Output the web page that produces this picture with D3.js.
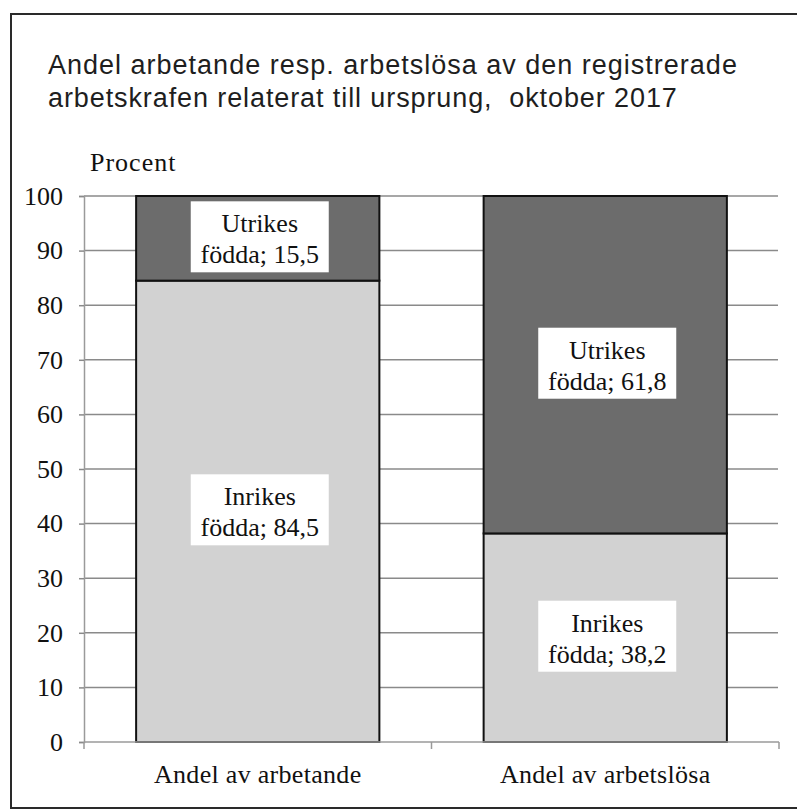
<!DOCTYPE html>
<html>
<head>
<meta charset="utf-8">
<script src="https://cdn.jsdelivr.net/npm/d3@7"></script>
<style>
  body { margin: 0; background: #fff; }
  svg { display: block; }
</style>
</head>
<body>
<div id="graph"></div>
<script>
const categories = ['Andel av arbetande', 'Andel av arbetslösa'];
const seriesNames = ['Inrikes', 'Utrikes'];
const inrikes = [84.5, 38.2];
const utrikes = [15.5, 61.8];
const yTicks = [0, 10, 20, 30, 40, 50, 60, 70, 80, 90, 100];
const colors = ['#d2d2d2', '#6c6c6c'];

const width = 797, height = 810;
const plot = {left: 84, right: 779, top: 196, bottom: 742};
const serif = '"Liberation Serif", "Times New Roman", serif';

const svg = d3.select('#graph')
  .append('svg')
    .attr('width', width)
    .attr('height', height);

// outer frame
svg.append('rect')
  .attr('x', 11).attr('y', 14)
  .attr('width', 800).attr('height', 794)
  .attr('fill', 'none')
  .attr('stroke', '#2a2a2a')
  .attr('stroke-width', 2);

// title
const title = svg.append('text')
  .attr('font-family', '"Liberation Sans", Arial, sans-serif')
  .attr('font-size', 27)
  .attr('letter-spacing', 1)
  .style('white-space', 'pre')
  .attr('fill', '#1e1e1e');
title.append('tspan').attr('x', 48).attr('y', 74)
  .text('Andel arbetande resp. arbetslösa av den registrerade');
title.append('tspan').attr('x', 48).attr('y', 107)
  .attr('letter-spacing', 0.9)
  .text('arbetskrafen relaterat till ursprung,  oktober 2017');

const y = d3.scaleLinear()
  .domain([0, 100])
  .range([plot.bottom, plot.top]);

const x = d3.scaleBand()
  .domain(categories)
  .range([plot.left, plot.right])
  .paddingInner(0.3)
  .paddingOuter(0.15);

// gridlines
svg.append('g')
  .selectAll('line')
  .data(yTicks.filter(d => d > 0))
  .enter()
    .append('line')
      .attr('x1', plot.left)
      .attr('x2', plot.right - 1)
      .attr('y1', d => y(d))
      .attr('y2', d => y(d))
      .attr('stroke', '#8a8a8a')
      .attr('stroke-width', 1.5);

// y axis
const yAxis = d3.axisLeft(y)
  .tickValues(yTicks)
  .tickSize(5)
  .tickPadding(16);
const yg = svg.append('g')
  .attr('transform', `translate(${plot.left},0)`)
  .call(yAxis);
yg.select('.domain').attr('stroke', '#9a9a9a').attr('stroke-width', 1.5);
yg.selectAll('.tick line').attr('stroke', '#8a8a8a').attr('stroke-width', 1.5);
yg.selectAll('.tick text')
  .attr('font-family', serif)
  .attr('font-size', 26)
  .attr('fill', '#111');

svg.append('text')
  .attr('x', 90)
  .attr('y', 171)
  .attr('font-family', serif)
  .attr('font-size', 26)
  .attr('letter-spacing', 1)
  .attr('fill', '#111')
  .text('Procent');

// stacked bars
const rows = categories.map((c, i) => ({cat: c, Inrikes: inrikes[i], Utrikes: utrikes[i]}));
const stacked = d3.stack().keys(seriesNames)(rows);

const layers = svg.append('g')
  .selectAll('g')
  .data(stacked)
  .enter()
    .append('g')
      .attr('fill', (d, i) => colors[i]);

layers.selectAll('rect')
  .data(d => d)
  .enter()
    .append('rect')
      .attr('x', d => x(d.data.cat))
      .attr('y', d => y(d[1]))
      .attr('width', x.bandwidth())
      .attr('height', d => y(d[0]) - y(d[1]))
      .attr('stroke', '#111')
      .attr('stroke-width', 2);

// x axis
const step = x.step();
svg.append('line')
  .attr('x1', plot.left).attr('x2', plot.right)
  .attr('y1', plot.bottom).attr('y2', plot.bottom)
  .attr('stroke', '#9a9a9a')
  .attr('stroke-width', 1.5);
svg.append('g')
  .selectAll('line')
  .data(d3.range(categories.length + 1))
  .enter()
    .append('line')
      .attr('x1', i => plot.left + i * step)
      .attr('x2', i => plot.left + i * step)
      .attr('y1', plot.bottom)
      .attr('y2', plot.bottom + 7)
      .attr('stroke', '#9a9a9a')
      .attr('stroke-width', 1.5);

svg.append('g')
  .selectAll('text')
  .data(categories)
  .enter()
    .append('text')
      .attr('x', d => x(d) + x.bandwidth() / 2)
      .attr('y', 783)
      .attr('text-anchor', 'middle')
      .attr('font-family', serif)
      .attr('font-size', 26)
      .attr('letter-spacing', 0.3)
      .attr('fill', '#111')
      .text(d => d);

// data labels in white boxes
const fmt = v => String(v).replace('.', ',');
const labels = [];
stacked.forEach(layer => {
  layer.forEach(d => {
    labels.push({
      cx: x(d.data.cat) + x.bandwidth() / 2,
      cy: y((d[0] + d[1]) / 2),
      name: layer.key,
      value: d[1] - d[0]
    });
  });
});

const lab = svg.append('g')
  .selectAll('g')
  .data(labels)
  .enter()
    .append('g')
      .attr('transform', d => `translate(${d.cx + 2},${d.cy})`);

lab.append('rect')
  .attr('x', -69)
  .attr('y', -37)
  .attr('width', 138)
  .attr('height', 71)
  .attr('fill', '#fff');

lab.append('text')
  .attr('text-anchor', 'middle')
  .attr('font-family', serif)
  .attr('font-size', 26)
  .attr('fill', '#111')
  .attr('y', -6)
  .text(d => d.name);

lab.append('text')
  .attr('text-anchor', 'middle')
  .attr('font-family', serif)
  .attr('font-size', 26)
  .attr('fill', '#111')
  .attr('y', 25)
  .text(d => 'födda; ' + fmt(+d.value.toFixed(1)));
</script>
</body>
</html>
